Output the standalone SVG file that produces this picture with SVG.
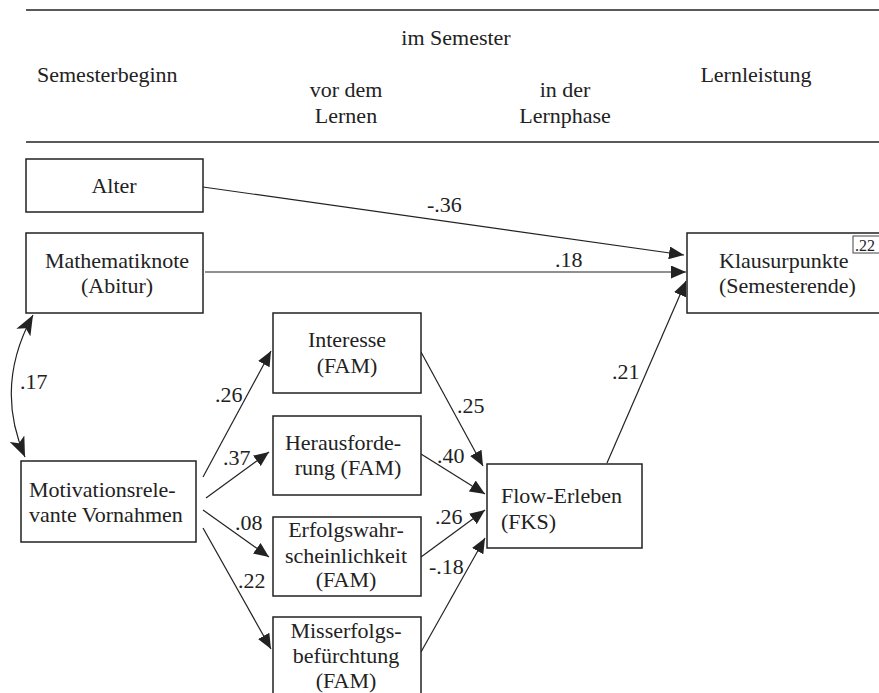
<svg xmlns="http://www.w3.org/2000/svg" width="879" height="693" viewBox="0 0 879 693" font-family="'Liberation Serif', 'DejaVu Serif', serif">
<style>
text{font-family:'Liberation Serif','DejaVu Serif',serif;font-size:22px;fill:#222}
.m{text-anchor:middle}
.box{fill:#fff;stroke:#222;stroke-width:1.5}
.rule{stroke:#222;stroke-width:1.5}
.c{fill:none;stroke:#222;stroke-width:1.2;marker-end:url(#ah)}
.small{font-size:16px}
</style>
<defs>
<marker id="ah" markerUnits="userSpaceOnUse" markerWidth="15" markerHeight="13" refX="15" refY="6.5" orient="auto-start-reverse" viewBox="0 0 15 13">
<path d="M0,0 L15,6.5 L0,13 z" fill="#222"/>
</marker>
<marker id="ah2" markerUnits="userSpaceOnUse" markerWidth="20" markerHeight="16" refX="20" refY="8" orient="auto-start-reverse" viewBox="0 0 20 16">
<path d="M0,0 L20,8 L0,16 L5,8 z" fill="#222"/>
</marker>
</defs>
<rect width="879" height="693" fill="#fff"/>
<g id="header">
<line class="rule" x1="26" y1="10" x2="879" y2="10"/>
<line class="rule" x1="26" y1="142" x2="879" y2="142"/>
<text class="m" x="456" y="45">im Semester</text>
<text x="37" y="82">Semesterbeginn</text>
<text class="m" x="346" y="97">vor dem</text>
<text class="m" x="346" y="123">Lernen</text>
<text class="m" x="565" y="97">in der</text>
<text class="m" x="565" y="123">Lernphase</text>
<text class="m" x="756" y="82">Lernleistung</text>
</g>
<g id="connectors">
<path class="c" d="M203,187 L684,255"/>
<path class="c" d="M205,272 L686,272"/>
<path class="c" d="M607,463 L686,281"/>
<path class="c" d="M203,477 L271,351"/>
<path class="c" d="M206,498 L269,452"/>
<path class="c" d="M203,510 L269,557"/>
<path class="c" d="M203,528 L271,649"/>
<path class="c" d="M421,352 L483,466"/>
<path class="c" d="M421,454 L485,494"/>
<path class="c" d="M421,557 L485,510"/>
<path class="c" d="M421,652 L485,538"/>
<path d="M33,315 Q-6,386 25,457" fill="none" stroke="#222" stroke-width="1.2" marker-start="url(#ah2)" marker-end="url(#ah2)"/>
<text x="20" y="389">.17</text>
<text x="427" y="212">-.36</text>
<text x="555" y="267">.18</text>
<text x="612" y="379">.21</text>
<text x="215" y="402">.26</text>
<text x="223" y="465">.37</text>
<text x="235" y="530">.08</text>
<text x="238" y="588">.22</text>
<text x="457" y="413">.25</text>
<text x="437" y="463">.40</text>
<text x="435" y="524">.26</text>
<text x="429" y="574">-.18</text>
</g>
<g id="alter">
<rect class="box" x="26" y="159" width="177" height="53"/>
<text class="m" x="114" y="193">Alter</text>
</g>
<g id="mathematiknote">
<rect class="box" x="26" y="233" width="177" height="80"/>
<text class="m" x="117" y="268">Mathematiknote</text>
<text class="m" x="117" y="293">(Abitur)</text>
</g>
<g id="klausurpunkte">
<rect class="box" x="687" y="233" width="200" height="80"/>
<text x="719" y="268">Klausurpunkte</text>
<text x="719" y="293">(Semesterende)</text>
<rect x="853" y="236" width="30" height="17" fill="#fff" stroke="#444" stroke-width="1"/>
<text class="small" x="855" y="251">.22</text>
</g>
<g id="motivation">
<rect class="box" x="21" y="461" width="175" height="81"/>
<text x="29" y="497">Motivationsrele-</text>
<text x="29" y="522">vante Vornahmen</text>
</g>
<g id="interesse">
<rect class="box" x="273" y="313" width="148" height="80"/>
<text class="m" x="347" y="347">Interesse</text>
<text class="m" x="347" y="373">(FAM)</text>
</g>
<g id="herausforderung">
<rect class="box" x="273" y="416" width="148" height="79"/>
<text class="m" x="343" y="450">Herausforde-</text>
<text class="m" x="348" y="475">rung (FAM)</text>
</g>
<g id="erfolgswahrscheinlichkeit">
<rect class="box" x="273" y="517" width="148" height="79"/>
<text class="m" x="346" y="537">Erfolgswahr-</text>
<text class="m" x="346" y="563">scheinlichkeit</text>
<text class="m" x="346" y="587">(FAM)</text>
</g>
<g id="misserfolgsbefuerchtung">
<rect class="box" x="273" y="617" width="148" height="90"/>
<text class="m" x="346" y="638">Misserfolgs-</text>
<text class="m" x="346" y="663">befürchtung</text>
<text class="m" x="346" y="688">(FAM)</text>
</g>
<g id="flow">
<rect class="box" x="487" y="464" width="155" height="84"/>
<text x="501" y="503">Flow-Erleben</text>
<text x="501" y="529">(FKS)</text>
</g>
</svg>
